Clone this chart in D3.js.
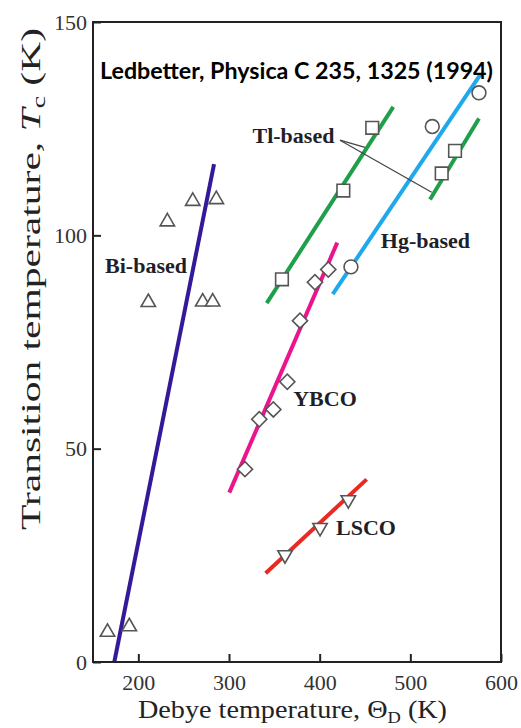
<!DOCTYPE html>
<html>
<head>
<meta charset="utf-8">
<script src="https://cdn.jsdelivr.net/npm/d3@7"></script>
<style>
  body { margin: 0; background: #fff; }
  text { font-family: "Liberation Serif", "DejaVu Serif", serif; fill: #222; }
</style>
</head>
<body>
<div id="vis"></div>
<script>
// values (Debye temperature K, Tc K)
let xTicks = [200, 300, 400, 500, 600];
let yTicks = [0, 50, 100, 150];

let biX = [166, 190, 211, 232, 260, 271, 282, 286];
let biY = [7, 8.3, 84.3, 103.2, 108, 84.4, 84.4, 108.4];
let biLineX = [173.5, 283.5];
let biLineY = [0, 116.7];

let tlX = [358.4, 426.1, 458, 534.6, 549.3];
let tlY = [89.7, 110.5, 125.2, 114.5, 119.8];
let tlLine1X = [341.6, 481.2];
let tlLine1Y = [84.1, 130.1];
let tlLine2X = [521.7, 575.7];
let tlLine2Y = [108.4, 127.4];

let hgX = [434.5, 524.2, 575.7];
let hgY = [92.6, 125.5, 133.4];
let hgLineX = [414.4, 577.6];
let hgLineY = [86.2, 137.8];

let ybcoX = [317.6, 333.4, 348.9, 364.3, 378.3, 394.8, 409.5];
let ybcoY = [45.2, 56.9, 59.2, 65.7, 80.0, 89.0, 92.0];
let ybcoLineX = [300.3, 419.4];
let ybcoLineY = [39.7, 98.3];

let lscoX = [361.8, 400.4, 431.6];
let lscoY = [25.1, 31.5, 38.0];
let lscoLineX = [340.4, 451.8];
let lscoLineY = [20.8, 42.8];

// leader lines for the Tl-based label
let leaderX = [[422.4, 450], [422.4, 523.5]];
let leaderY = [[122.3, 120.6], [122.3, 110.1]];

// series labels (centre, data units)
let labelText = ['Bi-based', 'Tl-based', 'Hg-based', 'YBCO', 'LSCO'];
let labelX = [208.5, 371.1, 516.7, 405.9, 451.1];
let labelY = [93.0, 123.5, 98.9, 61.9, 31.6];

let width = 521, height = 728;
let margin = { top: 22, left: 93, right: 20, bottom: 66 };

let svg = d3.select('#vis')
  .append('svg')
  .attr('width', width)
  .attr('height', height)
  .style('background-color', '#fff');

let xScale = d3.scaleLinear()
  .domain([150, 600])
  .range([margin.left, width - margin.right]);

let yScale = d3.scaleLinear()
  .domain([0, 150])
  .range([height - margin.bottom, margin.top]);

let zip = (xs, ys) => xs.map((x, i) => [x, ys[i]]);

let line = d3.line()
  .x(d => xScale(d[0]))
  .y(d => yScale(d[1]));

// fit lines
let fits = [
  { x: biLineX, y: biLineY, color: '#34199a' },
  { x: tlLine1X, y: tlLine1Y, color: '#1f9f4a' },
  { x: tlLine2X, y: tlLine2Y, color: '#1f9f4a' },
  { x: hgLineX, y: hgLineY, color: '#1fa9ec' },
  { x: ybcoLineX, y: ybcoLineY, color: '#ea158c' },
  { x: lscoLineX, y: lscoLineY, color: '#ec2822' }
];
svg.append('g').selectAll('path')
  .data(fits)
  .join('path')
    .attr('d', d => line(zip(d.x, d.y)))
    .style('fill', 'none')
    .style('stroke', d => d.color)
    .style('stroke-width', 4);

// leader lines
svg.append('g').selectAll('path')
  .data(leaderX.map((xs, i) => zip(xs, leaderY[i])))
  .join('path')
    .attr('d', line)
    .style('fill', 'none')
    .style('stroke', '#444')
    .style('stroke-width', 1.2);

// markers
let groups = [
  { x: biX, y: biY, type: d3.symbolTriangle, size: 90, rot: 0 },
  { x: tlX, y: tlY, type: d3.symbolSquare, size: 160, rot: 0 },
  { x: hgX, y: hgY, type: d3.symbolCircle, size: 150, rot: 0 },
  { x: ybcoX, y: ybcoY, type: d3.symbolSquare, size: 115, rot: 45 },
  { x: lscoX, y: lscoY, type: d3.symbolTriangle, size: 90, rot: 180 }
];
groups.forEach(g => {
  svg.append('g').selectAll('path')
    .data(zip(g.x, g.y))
    .join('path')
      .attr('d', d3.symbol().type(g.type).size(g.size))
      .attr('transform', d => 'translate(' + xScale(d[0]) + ',' + yScale(d[1]) + ') rotate(' + g.rot + ')')
      .style('fill', '#fff')
      .style('stroke', '#555')
      .style('stroke-width', 1.6);
});

// axes
let xAxis = d3.axisBottom(xScale)
  .tickValues(xTicks)
  .tickSizeInner(-8)
  .tickSizeOuter(0)
  .tickPadding(12);
let gx = svg.append('g')
  .attr('transform', 'translate(0,' + (height - margin.bottom) + ')')
  .call(xAxis);

let yAxis = d3.axisLeft(yScale)
  .tickValues(yTicks)
  .tickSizeInner(-8)
  .tickSizeOuter(0)
  .tickPadding(6);
let gy = svg.append('g')
  .attr('transform', 'translate(' + margin.left + ',0)')
  .call(yAxis);

[gx, gy].forEach(g => {
  g.select('.domain').remove();
  g.selectAll('line').style('stroke', '#222').style('stroke-width', 2);
  g.selectAll('text')
    .style('font-family', '"Liberation Serif", serif')
    .style('font-size', '22px')
    .style('fill', '#333');
});

// frame
svg.append('rect')
  .attr('x', margin.left)
  .attr('y', margin.top)
  .attr('width', width - margin.left - margin.right)
  .attr('height', height - margin.top - margin.bottom)
  .style('fill', 'none')
  .style('stroke', '#222')
  .style('stroke-width', 2);

// axis titles
let xt = svg.append('text')
  .attr('x', 138)
  .attr('y', 718)
  .attr('textLength', 309)
  .attr('lengthAdjust', 'spacingAndGlyphs')
  .style('font-size', '26px');
xt.append('tspan').text('Debye temperature, \u0398');
xt.append('tspan').attr('dy', 5).style('font-size', '17px').text('D');
xt.append('tspan').attr('dy', -5).text(' (K)');

let yt = svg.append('text')
  .attr('transform', 'translate(40,530) rotate(-90)')
  .attr('textLength', 502)
  .attr('lengthAdjust', 'spacingAndGlyphs')
  .style('font-size', '27px');
yt.append('tspan').text('Transition temperature, ');
yt.append('tspan').style('font-style', 'italic').text('T');
yt.append('tspan').attr('dy', 5).style('font-size', '18px').text('c');
yt.append('tspan').attr('dy', -5).text(' (K)');

svg.append('g').selectAll('text')
  .data(labelText)
  .join('text')
    .attr('x', (d, i) => xScale(labelX[i]))
    .attr('y', (d, i) => yScale(labelY[i]))
    .attr('text-anchor', 'middle')
    .attr('dy', '0.35em')
    .style('font-size', '22px')
    .style('font-weight', 'bold')
    .style('fill', '#1f1f2a')
    .text(d => d);

// citation
svg.append('text')
  .attr('x', 100)
  .attr('y', 79)
  .attr('textLength', 393)
  .attr('lengthAdjust', 'spacingAndGlyphs')
  .style('font-family', 'Lato, "Open Sans", sans-serif')
  .style('font-weight', 'bold')
  .style('font-size', '22px')
  .style('fill', '#000')
  .text('Ledbetter, Physica C 235, 1325 (1994)');
</script>
</body>
</html>
